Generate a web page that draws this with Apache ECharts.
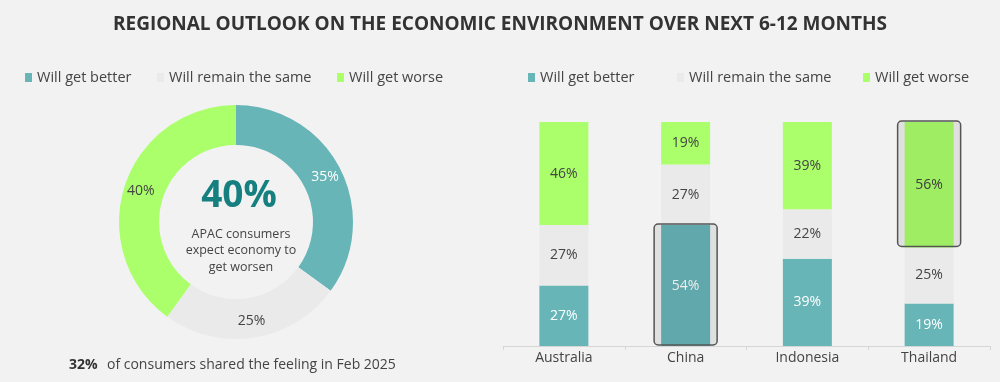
<!DOCTYPE html>
<html>
<head>
<meta charset="utf-8">
<script src="https://cdn.jsdelivr.net/npm/echarts@6/dist/echarts.min.js"></script>
<style>
  html, body { margin: 0; padding: 0; background: #f2f2f2; }
  #chart { width: 1000px; height: 382px; }
</style>
</head>
<body>
<div id="chart"></div>
<script>
const FONT = '"Open Sans", "Noto Sans", sans-serif';
const seriesNames = ['Will get better', 'Will remain the same', 'Will get worse'];
const colors = ['#68b5b8', '#eaeaea', '#aaff6a'];
const apacValues = [35, 25, 40];
const countries = ['Australia', 'China', 'Indonesia', 'Thailand'];
const betterValues = [27, 54, 39, 19];
const sameValues = [27, 27, 22, 25];
const worseValues = [46, 19, 39, 56];
const highlights = [
  { country: 'China', series: 0 },
  { country: 'Thailand', series: 2 }
];
const headline = '40%';
const headlineText = 'APAC consumers\nexpect economy to\nget worsen';
const febValue = '32%';
const febText = 'of consumers shared the feeling in Feb 2025';

const stackData = [betterValues, sameValues, worseValues];
const BAR_W = 49;

const highlightData = highlights.map(h => {
  const ci = countries.indexOf(h.country);
  let start = 0;
  for (let s = 0; s < h.series; s++) start += stackData[s][ci];
  return [ci, start, start + stackData[h.series][ci]];
});

const chart = echarts.init(document.getElementById('chart'), null, { renderer: 'canvas' });

const legendStyle = { fontSize: 14.5, color: '#444', fontFamily: FONT };
function legendItem(name, left) {
  return {
    data: [name], left: left, top: 70, icon: 'rect', itemWidth: 7, itemHeight: 9,
    textStyle: legendStyle, selectedMode: false, padding: 0
  };
}

const option = {
  backgroundColor: '#f2f2f2',
  color: colors,
  textStyle: { fontFamily: FONT },
  title: [
    {
      text: 'REGIONAL OUTLOOK ON THE ECONOMIC ENVIRONMENT OVER NEXT 6-12 MONTHS',
      left: 'center', top: 10,
      textStyle: { fontSize: 19, fontWeight: 'bold', color: '#333', fontFamily: FONT }
    },
    {
      text: '{b|' + febValue + '}  {n|' + febText + '}',
      left: 64, top: 351,
      textStyle: {
        rich: {
          b: { fontSize: 14, fontWeight: 'bold', color: '#333', fontFamily: FONT },
          n: { fontSize: 14, fontWeight: 'normal', color: '#444', fontFamily: FONT }
        }
      }
    },
    {
      text: headline, left: 234, top: 173, textAlign: 'center',
      textStyle: { fontSize: 37, fontWeight: 'bold', color: '#15807f', fontFamily: FONT }
    },
    {
      text: headlineText, left: 236, top: 221, textAlign: 'center',
      textStyle: { fontSize: 12.5, fontWeight: 'normal', color: '#444', lineHeight: 16.5, fontFamily: FONT }
    }
  ],
  legend: [
    legendItem(seriesNames[0], 25),
    legendItem(seriesNames[1], 157),
    legendItem(seriesNames[2], 337),
    legendItem(seriesNames[0], 528),
    legendItem(seriesNames[1], 677),
    legendItem(seriesNames[2], 863)
  ],
  grid: { left: 503, right: 10, top: 122, bottom: 36 },
  xAxis: {
    type: 'category', data: countries,
    axisLine: { lineStyle: { color: '#d6d6d6' } },
    axisTick: { show: true, length: 4, lineStyle: { color: '#d6d6d6' } },
    axisLabel: { fontSize: 14, color: '#444', margin: 5, fontFamily: FONT }
  },
  yAxis: { type: 'value', min: 0, max: 100, show: false, splitLine: { show: false } },
  series: [
    {
      type: 'pie', name: 'APAC', center: [236, 222], radius: [77, 117],
      startAngle: 90, clockwise: true, silent: true,
      data: seriesNames.map((n, i) => ({ name: n, value: apacValues[i] })),
      label: {
        show: true, position: 'inside', formatter: '{c}%', fontSize: 14, fontFamily: FONT,
        color: '#444'
      },
      labelLine: { show: false },
      itemStyle: { borderWidth: 0 }
    },
    ...seriesNames.map((n, i) => ({
      type: 'bar', name: n, stack: 'total', barWidth: BAR_W, data: stackData[i],
      label: {
        show: true, position: 'inside', formatter: '{c}%', fontSize: 14, fontFamily: FONT,
        color: i === 0 ? '#ffffff' : '#444'
      },
      itemStyle: { color: colors[i] }
    })),
    {
      type: 'custom', name: 'highlight', z: 10, silent: true,
      data: highlightData,
      renderItem: function (params, api) {
        const top = api.coord([api.value(0), api.value(2)]);
        const bot = api.coord([api.value(0), api.value(1)]);
        const pad = 7;
        return {
          type: 'rect',
          shape: { x: top[0] - BAR_W / 2 - pad, y: top[1] - 1, width: BAR_W + 2 * pad, height: bot[1] - top[1], r: 4 },
          style: { fill: 'rgba(0,0,0,0.07)', stroke: '#555', lineWidth: 1.5 }
        };
      }
    }
  ]
};
option.series[0].data[0].label = { color: '#ffffff' };
chart.setOption(option);
</script>
</body>
</html>
